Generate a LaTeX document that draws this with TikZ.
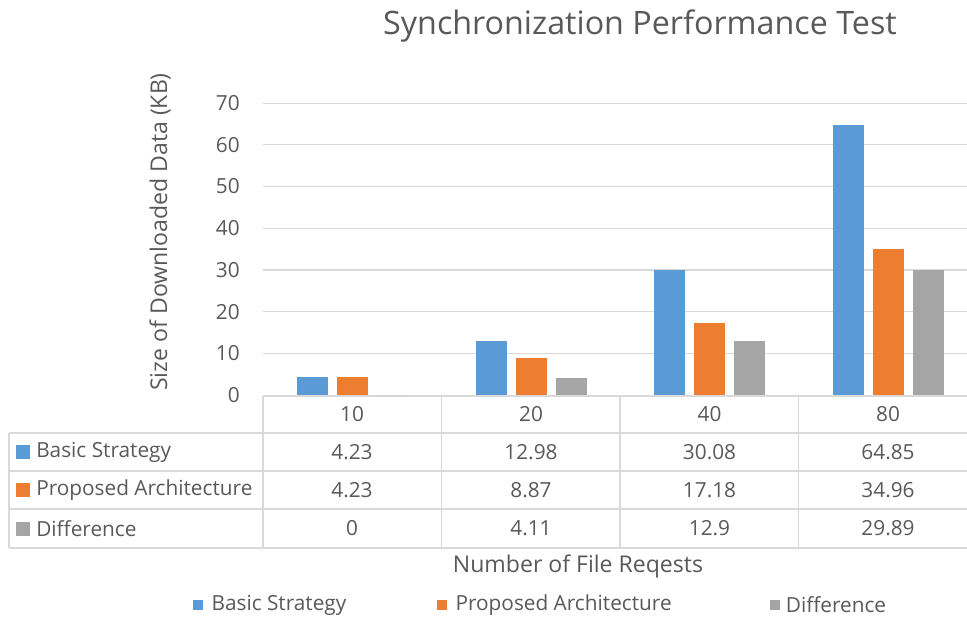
\documentclass[tikz,border=0pt]{standalone}
\usepackage{fontspec}
\setmainfont{Open Sans}
\usetikzlibrary{positioning, calc}
\definecolor{cBlue}{RGB}{91,155,213}
\definecolor{cOrange}{RGB}{237,125,49}
\definecolor{cGray}{RGB}{165,165,165}
\definecolor{cText}{RGB}{89,89,89}
\definecolor{cLine}{RGB}{217,217,217}

\begin{document}
\begin{tikzpicture}[x=0.75pt, y=-0.75pt, inner sep=0pt,
    every node/.style={text=cText},
    txt/.style={font=\fontsize{15.6}{18}\selectfont},
    ttl/.style={font=\fontsize{24.2}{28}\selectfont},
    axttl/.style={font=\fontsize{17.3}{20}\selectfont},
    gridline/.style={draw=cLine, line width=0.9pt},
    swatch/.style={minimum size=#1, inner sep=0pt}]
    \useasboundingbox (0,0) rectangle (967,618);

    % Titles
    \node[ttl] (title) at (640,26) {Synchronization Performance Test};
    \node[axttl, rotate=90] (ytitle) at (160,232) {Size of Downloaded Data (KB)};
    \node[axttl] (xtitle) at (578,566) {Number of File Reqests};

    % Value axis and grid
    \foreach \v in {0,10,...,70} {
        \node[txt, anchor=east] (tick\v) at (240,{395-4.17*\v}) {\v};
    }
    \foreach \v in {10,20,...,70} {
        \draw[gridline] (263,{395-4.17*\v}) -- (967,{395-4.17*\v});
    }

    % Data table grid
    \draw[gridline] (263,396) -- (967,396);
    \foreach \y in {433,471,509,548} {
        \draw[gridline] (9,\y) -- (967,\y);
    }
    \draw[gridline] (9,433) -- (9,548);
    \foreach \x in {263,441.5,620,798.5} {
        \draw[gridline] (\x,396) -- (\x,548);
    }

    % Row headers of the table
    \foreach \r/\col/\name/\y in {bs/cBlue/Basic Strategy/452, pa/cOrange/Proposed Architecture/490, df/cGray/Difference/528.5} {
        \node[swatch=10.5pt, fill=\col] (sw\r) at (23,\y) {};
        \node[txt, anchor=west] (row\r) at (36,\y) {\name};
    }

    % Bars and table values
    \foreach \n/\cx/\a/\b/\d in {10/352/4.23/4.23/0, 20/531/12.98/8.87/4.11,
                                 40/709.5/30.08/17.18/12.9, 80/888/64.85/34.96/29.89} {
        \fill[cBlue]   (\cx-55.5,395) rectangle (\cx-24.5,{395-4.17*\a});
        \fill[cOrange] (\cx-15.5,395) rectangle (\cx+15.5,{395-4.17*\b});
        \fill[cGray]   (\cx+24.5,395) rectangle (\cx+55.5,{395-4.17*\d});
        \node[txt] (head\n) at (\cx,414.5) {\n};
        \node[txt] (bs\n) at (\cx,452) {\a};
        \node[txt] (pa\n) at (\cx,490) {\b};
        \node[txt] (df\n) at (\cx,528.5) {\d};
    }

    % Legend
    \node[swatch=7.5pt, fill=cBlue] (keybs) at (198,605) {};
    \node[txt, right=6pt of keybs] (legbs) {Basic Strategy};
    \node[swatch=7.5pt, fill=cOrange] (keypa) at (442,605) {};
    \node[txt, right=6pt of keypa] (legpa) {Proposed Architecture};
    \node[swatch=7.5pt, fill=cGray] (keydf) at (775,605) {};
    \node[txt, right=4pt of keydf] (legdf) {Difference};
\end{tikzpicture}
\end{document}
